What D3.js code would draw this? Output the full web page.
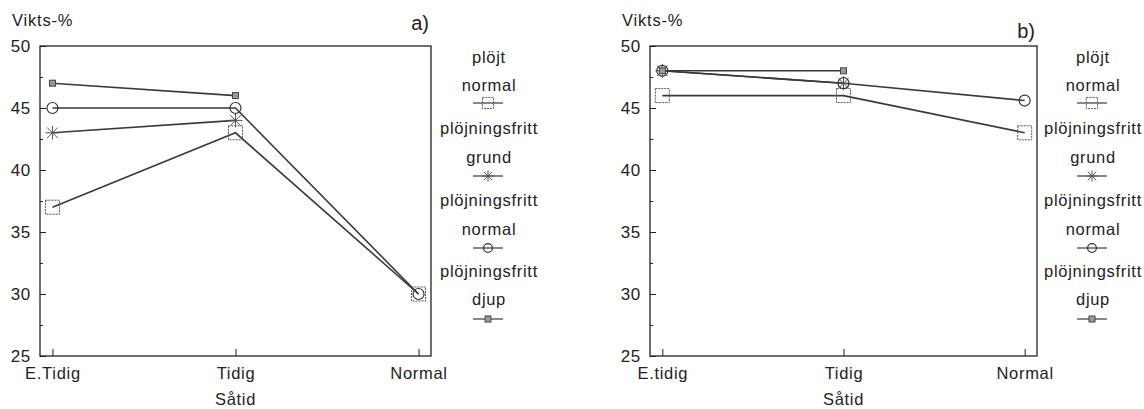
<!DOCTYPE html>
<html><head><meta charset="utf-8">
<script src="https://cdn.jsdelivr.net/npm/d3@7"></script>
<style>
body{margin:0;background:#fff;}
text{font-family:"Liberation Sans",Arial,sans-serif;fill:#222;}
</style></head>
<body>
<svg id="c" width="1144" height="409"></svg>
<script>
// ---- data ----
const categoriesA = ["E.Tidig", "Tidig", "Normal"];
const categoriesB = ["E.tidig", "Tidig", "Normal"];
const yTicksMajor = [25, 30, 35, 40, 45, 50];
const yTicksMinor = [27.5, 32.5, 37.5, 42.5, 47.5];
const legendLines = [["plöjt", "normal"], ["plöjningsfritt", "grund"], ["plöjningsfritt", "normal"], ["plöjningsfritt", "djup"]];
const markers = ["square", "asterisk", "circle", "smallsq"];
// panel a
const aPlojtNormal = [37, 43, 30];
const aPfGrund = [43, 44, null];
const aPfNormal = [45, 45, 30];
const aPfDjup = [47, 46, null];
// panel b
const bPlojtNormal = [46, 46, 43];
const bPfGrund = [48, 47, null];
const bPfNormal = [48, 47, 45.6];
const bPfDjup = [48, 48, null];
const xTitle = "Såtid";
const yTitle = "Vikts-%";

const svg = d3.select("#c");
const FONT = 16.5;
const LS = 0.7;

function drawMarker(g, type, x, y, small) {
  const s = small ? 0.8 : 1;
  if (type === "square") {
    g.append("rect").attr("x", x - 7 * s).attr("y", y - 7 * s).attr("width", 14 * s).attr("height", 14 * s)
      .attr("fill", "none").attr("stroke", "#555").attr("stroke-width", 1).attr("stroke-dasharray", "2,1");
  } else if (type === "circle") {
    g.append("circle").attr("cx", x).attr("cy", y).attr("r", 5.5 * s)
      .attr("fill", "none").attr("stroke", "#333").attr("stroke-width", 1.2);
  } else if (type === "asterisk") {
    const r = 7 * s;
    [[r, 0], [0, r], [r * 0.75, r * 0.75], [r * 0.75, -r * 0.75]].forEach(([dx, dy]) => {
      g.append("line").attr("x1", x - dx).attr("y1", y - dy).attr("x2", x + dx).attr("y2", y + dy)
        .attr("stroke", "#555").attr("stroke-width", 1);
    });
  } else if (type === "smallsq") {
    g.append("rect").attr("x", x - 3).attr("y", y - 3).attr("width", 6).attr("height", 6)
      .attr("fill", "#999").attr("stroke", "#444").attr("stroke-width", 1);
  }
}

function panel(cfg) {
  const g = svg.append("g");
  const x = d3.scalePoint().domain(cfg.cats).range([cfg.x0, cfg.x1]).padding(0.068);
  const y = d3.scaleLinear().domain([25, 50]).range([356, 46]);

  g.append("rect").attr("x", cfg.x0).attr("y", 46).attr("width", cfg.x1 - cfg.x0).attr("height", 310)
    .attr("fill", "none").attr("stroke", "#222").attr("stroke-width", 1.3);

  const ya = d3.axisLeft(y).tickValues(yTicksMajor).tickSize(-6).tickPadding(9).tickFormat(d3.format("d"));
  const yg = g.append("g").attr("transform", `translate(${cfg.x0},0)`).call(ya);
  yg.select(".domain").remove();
  yg.selectAll("line").attr("stroke", "#222");
  yg.selectAll("text").attr("font-size", FONT + 0.5).attr("letter-spacing", LS)
    .attr("font-family", "Liberation Sans, Arial, sans-serif").attr("fill", "#222");
  const ym = d3.axisLeft(y).tickValues(yTicksMinor).tickSize(-3).tickFormat("");
  const ymg = g.append("g").attr("transform", `translate(${cfg.x0},0)`).call(ym);
  ymg.select(".domain").remove();
  ymg.selectAll("line").attr("stroke", "#222");

  const xa = d3.axisBottom(x).tickSize(-7).tickPadding(11);
  const xg = g.append("g").attr("transform", "translate(0,356)").call(xa);
  xg.select(".domain").remove();
  xg.selectAll("line").attr("stroke", "#222");
  xg.selectAll("text").attr("font-size", FONT).attr("letter-spacing", LS)
    .attr("font-family", "Liberation Sans, Arial, sans-serif").attr("fill", "#222");

  g.append("text").attr("x", x(cfg.cats[1])).attr("y", 405).attr("text-anchor", "middle")
    .attr("font-size", FONT).attr("letter-spacing", LS).text(xTitle);
  g.append("text").attr("x", cfg.x0 - 28).attr("y", 26)
    .attr("font-size", FONT).attr("letter-spacing", 0.8).text(yTitle);
  g.append("text").attr("x", cfg.x1 - 2).attr("y", cfg.labelY).attr("text-anchor", "end")
    .attr("font-size", 20).text(cfg.label);

  const line = d3.line().defined(d => d.v != null).x(d => x(d.c)).y(d => y(d.v));
  cfg.series.forEach((vals) => {
    const pts = vals.map((v, j) => ({ c: cfg.cats[j], v }));
    g.append("path").datum(pts).attr("d", line).attr("fill", "none")
      .attr("stroke", "#3a3a3a").attr("stroke-width", 1.6);
  });
  cfg.series.forEach((vals, i) => {
    vals.forEach((v, j) => { if (v != null) drawMarker(g, markers[i], x(cfg.cats[j]), y(v)); });
  });

  const lx = cfg.legendX;
  const rowsY = [[57, 85, 103], [128, 157, 176], [200, 229, 248], [271, 299, 319]];
  legendLines.forEach((txt, i) => {
    g.append("text").attr("x", lx).attr("y", rowsY[i][0] + 6).attr("text-anchor", "middle")
      .attr("font-size", FONT).attr("letter-spacing", LS).text(txt[0]);
    g.append("text").attr("x", lx).attr("y", rowsY[i][1] + 6).attr("text-anchor", "middle")
      .attr("font-size", FONT).attr("letter-spacing", LS).text(txt[1]);
    const my = rowsY[i][2];
    g.append("line").attr("x1", lx - 16).attr("x2", lx + 14).attr("y1", my).attr("y2", my)
      .attr("stroke", "#555").attr("stroke-width", 1.4);
    drawMarker(g, markers[i], lx - 1, my, true);
  });
}

panel({ cats: categoriesA, x0: 40, x1: 431, series: [aPlojtNormal, aPfGrund, aPfNormal, aPfDjup],
  label: "a)", labelY: 30, legendX: 489 });
panel({ cats: categoriesB, x0: 650, x1: 1037, series: [bPlojtNormal, bPfGrund, bPfNormal, bPfDjup],
  label: "b)", labelY: 38, legendX: 1093 });
</script>
</body></html>
